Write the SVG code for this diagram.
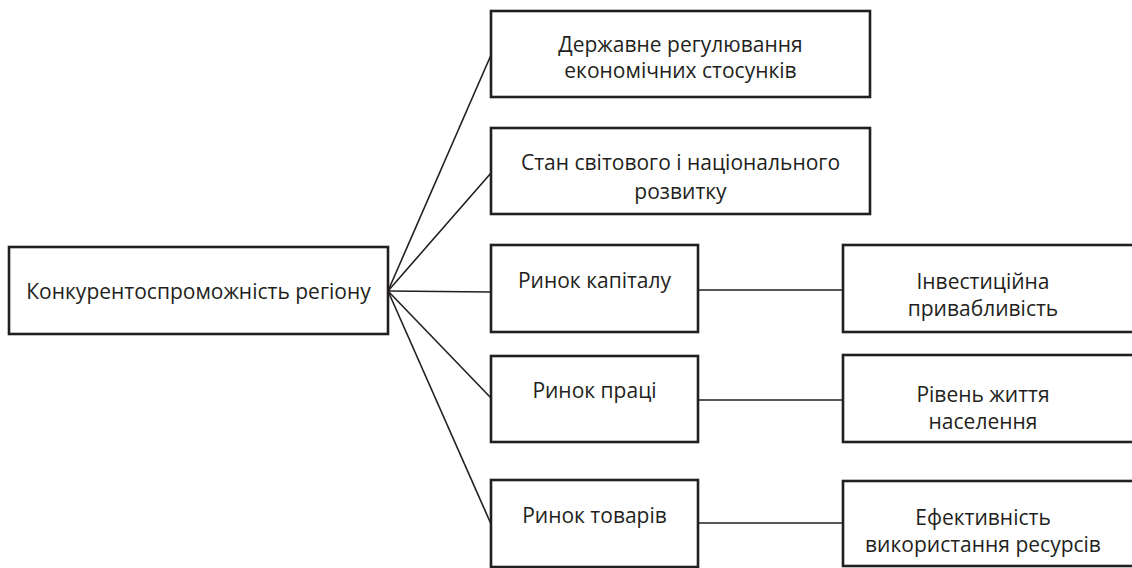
<svg xmlns="http://www.w3.org/2000/svg" width="1132" height="568" viewBox="0 0 1132 568">
<style>
.box{fill:#fff;stroke:#231f20;stroke-width:2.6}
.ln{stroke:#231f20;stroke-width:1.6;fill:none}
text{font-family:"Open Sans","Noto Sans","Liberation Sans",sans-serif;font-size:21px;fill:#231f20;text-anchor:middle}
</style>
<rect width="1132" height="568" fill="#fff"/>
<g id="connectors">
<line class="ln" x1="388" y1="291" x2="491" y2="55"/>
<line class="ln" x1="388" y1="291" x2="491" y2="173"/>
<line class="ln" x1="388" y1="291" x2="491" y2="292"/>
<line class="ln" x1="388" y1="291" x2="491" y2="398"/>
<line class="ln" x1="388" y1="291" x2="491" y2="524"/>
<line class="ln" x1="698" y1="290" x2="843" y2="290"/>
<line class="ln" x1="698" y1="400" x2="843" y2="400"/>
<line class="ln" x1="698" y1="523" x2="843" y2="523"/>
</g>
<g id="n-center"><rect class="box" x="9" y="247" width="379" height="87"/><text x="198.5" y="299">Конкурентоспроможність регіону</text></g>
<g id="n-state"><rect class="box" x="491" y="11" width="379" height="86"/><text x="680.5" y="52">Державне регулювання</text><text x="680.5" y="78">економічних стосунків</text></g>
<g id="n-world"><rect class="box" x="491" y="128" width="379" height="86"/><text x="680.5" y="170">Стан світового і національного</text><text x="680.5" y="199">розвитку</text></g>
<g id="n-capital"><rect class="box" x="491" y="245" width="207" height="87"/><text x="594.5" y="288">Ринок капіталу</text></g>
<g id="n-labour"><rect class="box" x="491" y="356" width="207" height="86"/><text x="594.5" y="398">Ринок праці</text></g>
<g id="n-goods"><rect class="box" x="491" y="480" width="207" height="87"/><text x="594.5" y="523">Ринок товарів</text></g>
<g id="n-invest"><rect class="box" x="843" y="245" width="295" height="87"/><text x="983" y="289">Інвестиційна</text><text x="983" y="316">привабливість</text></g>
<g id="n-living"><rect class="box" x="843" y="355" width="295" height="87"/><text x="983" y="402">Рівень життя</text><text x="983" y="429">населення</text></g>
<g id="n-eff"><rect class="box" x="843" y="481" width="295" height="85"/><text x="983" y="525">Ефективність</text><text x="983" y="552">використання ресурсів</text></g>
</svg>
